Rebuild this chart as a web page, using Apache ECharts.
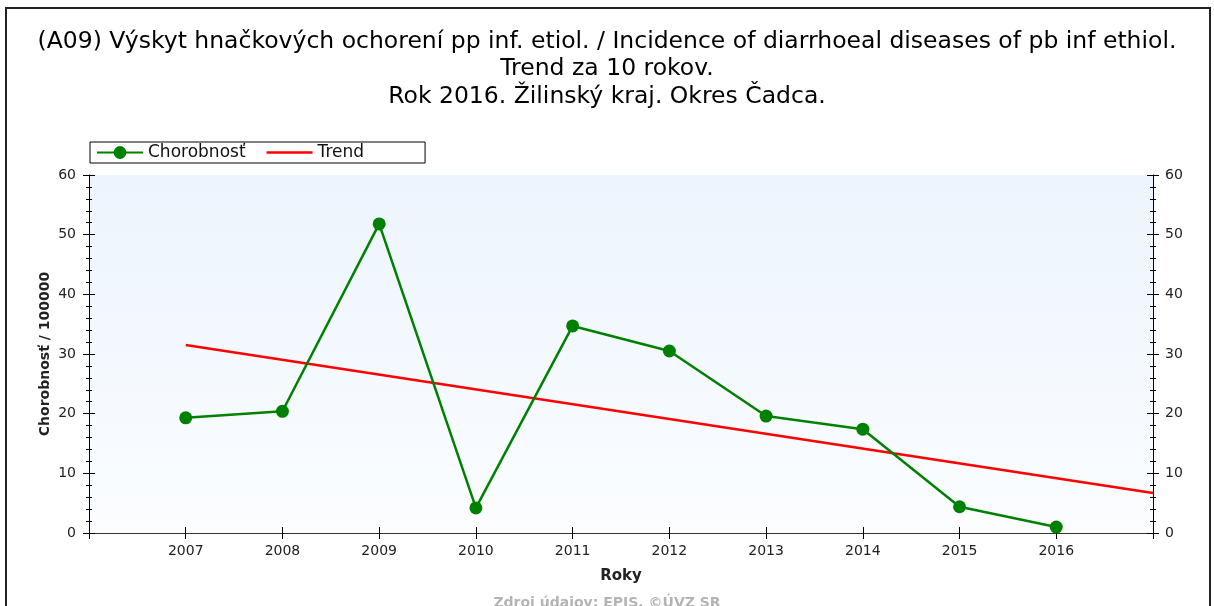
<!DOCTYPE html>
<html>
<head>
<meta charset="utf-8">
<script src="https://cdn.jsdelivr.net/npm/echarts@6/dist/echarts.min.js"></script>
<style>
  html, body { margin: 0; padding: 0; background: #fff; }
  #chart { width: 1214px; height: 606px; }
</style>
</head>
<body>
<div id="chart"></div>
<script>
// roky a hodnoty chorobnosti
var years = [2007, 2008, 2009, 2010, 2011, 2012, 2013, 2014, 2015, 2016];
var values = [19.3, 20.4, 51.8, 4.2, 34.7, 30.5, 19.6, 17.4, 4.4, 1.0];
// trend - koncove body
var trendYears = [2007, 2017];
var trendValues = [31.5, 6.7];
var yTicks = [0, 10, 20, 30, 40, 50, 60];

var FONT = '"DejaVu Sans", Arial, sans-serif';

var chart = echarts.init(document.getElementById('chart'));

function pairs(xs, ys) {
  return xs.map(function (x, i) { return [x, ys[i]]; });
}

var xBase = {
  type: 'value',
  min: 2006,
  max: 2017,
  interval: 1,
  splitLine: { show: false }
};
var yBase = {
  type: 'value',
  min: yTicks[0],
  max: yTicks[yTicks.length - 1],
  interval: 10,
  splitLine: { show: false },
  minorTick: { show: true, splitNumber: 5, length: 3, lineStyle: { color: '#000' } }
};

var option = {
  animation: false,
  textStyle: { fontFamily: FONT },
  title: {
    text: '(A09) Výskyt hnačkových ochorení pp inf. etiol. / Incidence of diarrhoeal diseases of pb inf ethiol.\nTrend za 10 rokov.\nRok 2016. Žilinský kraj. Okres Čadca.',
    left: 'center',
    top: 23,
    textStyle: { fontFamily: FONT, fontSize: 23.5, fontWeight: 'normal', color: '#000', lineHeight: 27.5 }
  },
  legend: {
    left: 90,
    top: 142,
    orient: 'horizontal',
    borderColor: '#000',
    borderWidth: 1,
    borderRadius: 0,
    padding: [2, 61, 2, 6],
    itemWidth: 46,
    itemHeight: 16,
    itemGap: 21,
    textStyle: { fontFamily: FONT, fontSize: 17, color: '#111' },
    data: [
      { name: 'Chorobnosť' },
      { name: 'Trend', icon: 'path://M0,0H46V2.5H0Z' }
    ]
  },
  grid: {
    left: 89,
    right: 61,
    top: 175,
    bottom: 73,
    show: true,
    borderWidth: 0,
    backgroundColor: {
      type: 'linear', x: 0, y: 0, x2: 0, y2: 1,
      colorStops: [
        { offset: 0, color: '#ecf4fd' },
        { offset: 1, color: '#fbfdff' }
      ]
    }
  },
  xAxis: [
    Object.assign({}, xBase, {
      position: 'bottom',
      name: 'Roky',
      nameLocation: 'middle',
      nameGap: 36,
      nameTextStyle: { fontFamily: FONT, fontSize: 15, fontWeight: 'bold', color: '#222' },
      axisLine: { lineStyle: { color: '#000', width: 1 } },
      axisTick: { length: 6, inside: false, lineStyle: { color: '#000' } },
      axisLabel: {
        margin: 11, fontSize: 14, color: '#222',
        formatter: function (v) { return years.indexOf(v) >= 0 ? String(v) : ''; }
      }
    }),
    Object.assign({}, xBase, {
      position: 'bottom',
      axisLine: { show: false },
      axisTick: { length: 6, inside: true, lineStyle: { color: '#000' } },
      axisLabel: { show: false }
    }),
    Object.assign({}, xBase, {
      position: 'top',
      axisLine: { lineStyle: { color: '#333', width: 1 } },
      axisTick: { length: 6, inside: true, lineStyle: { color: '#000' } },
      axisLabel: { show: false }
    })
  ],
  yAxis: [
    Object.assign({}, yBase, {
      position: 'left',
      name: 'Chorobnosť / 100000',
      nameLocation: 'middle',
      nameGap: 37,
      nameMoveOverlap: false,
      nameTextStyle: { fontFamily: FONT, fontSize: 14, fontWeight: 'bold', color: '#222' },
      axisLine: { show: true, lineStyle: { color: '#000' } },
      axisTick: { show: true, length: 6, inside: false, lineStyle: { color: '#000' } },
      axisLabel: { margin: 13, fontSize: 14, color: '#222' }
    }),
    Object.assign({}, yBase, {
      position: 'left',
      axisLine: { show: false },
      axisTick: { show: true, length: 6, inside: true, lineStyle: { color: '#000' } },
      axisLabel: { show: false }
    }),
    Object.assign({}, yBase, {
      position: 'right',
      axisLine: { show: true, lineStyle: { color: '#000' } },
      axisTick: { show: true, length: 6, inside: false, lineStyle: { color: '#000' } },
      axisLabel: { margin: 12, fontSize: 14, color: '#222' }
    }),
    Object.assign({}, yBase, {
      position: 'right',
      axisLine: { show: false },
      axisTick: { show: true, length: 6, inside: true, lineStyle: { color: '#000' } },
      axisLabel: { show: false }
    })
  ],
  graphic: [
    {
      type: 'rect',
      shape: { x: 6, y: 8, width: 1204, height: 620 },
      style: { fill: null, stroke: '#222', lineWidth: 2 },
      silent: true
    },
    {
      type: 'text',
      left: 'center',
      top: 596,
      style: { text: 'Zdroj údajov: EPIS, ©ÚVZ SR', fill: '#b4b4b4', font: 'bold 14px ' + FONT }
    }
  ],
  series: [
    {
      name: 'Chorobnosť',
      type: 'line',
      xAxisIndex: 0,
      yAxisIndex: 0,
      data: pairs(years, values),
      symbol: 'circle',
      symbolSize: 13,
      itemStyle: { color: '#008000' },
      lineStyle: { color: '#008000', width: 2.5 },
      z: 3
    },
    {
      name: 'Trend',
      type: 'line',
      xAxisIndex: 0,
      yAxisIndex: 0,
      data: pairs(trendYears, trendValues),
      symbol: 'none',
      itemStyle: { color: '#ff0000' },
      lineStyle: { color: '#ff0000', width: 2.5 },
      z: 2
    }
  ]
};

chart.setOption(option);
</script>
</body>
</html>
